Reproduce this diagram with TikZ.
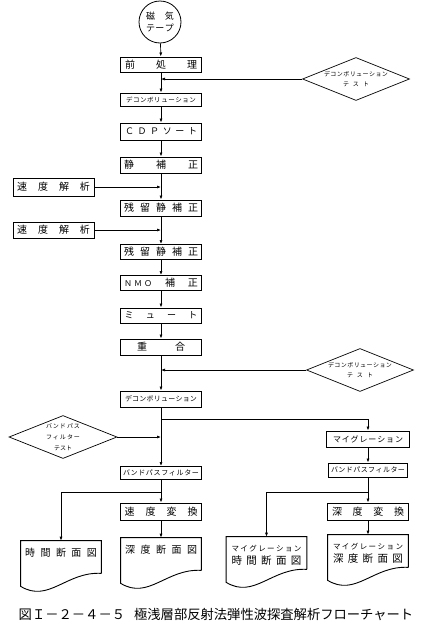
\documentclass[tikz,border=0pt]{standalone}
\usepackage{fontspec}
\setmainfont{Noto Sans CJK JP}
\usetikzlibrary{arrows.meta,shapes.geometric}
\def\spreadloop#1#2{#1\ifx\relax#2\else\hfil\expandafter\spreadloop\fi#2}
\newcommand\spreadtxt[2]{\makebox[#1][s]{\spreadloop#2\relax}}
\newcommand\fsz[1]{\fontsize{#1}{#1}\selectfont}

\begin{document}
\begin{tikzpicture}[x=1pt,y=-1pt,line width=0.7pt,>={Latex[length=4pt,width=3pt]},
  proc/.style={draw,line width=1pt,minimum width=81pt,minimum height=16pt,inner sep=0pt,font=\fsz{10}},
  test/.style={draw,diamond,aspect=2.5,line width=0.7pt,minimum width=107pt,minimum height=43pt,inner sep=0pt,align=center,font=\fontsize{6}{10}\selectfont},
  docbox/.style={minimum width=80pt,minimum height=32pt,inner sep=0pt},
  doctext/.style={anchor=north,yshift=-4pt,align=center,font=\fsz{10}}]
  \useasboundingbox (0,0) rectangle (429,635);
  % main column
  \node[circle,draw,line width=0.8pt,minimum size=42pt,inner sep=0pt,align=center,font=\fontsize{9}{12}\selectfont] (tape) at (160,22) {\spreadtxt{28pt}{磁気}\\\spreadtxt{28pt}{テープ}};
  \node[proc,minimum height=15pt] (pre) at (161,64.5) {\spreadtxt{72pt}{前処理}};
  \node[proc,minimum height=13pt,font=\fsz{6.5}] (decon1) at (161,99.5) {\spreadtxt{70pt}{デコンボリューション}};
  \node[proc,minimum height=17pt,font=\fsz{9}] (cdp) at (161,131.5) {\spreadtxt{72pt}{ＣＤＰソート}};
  \node[proc] (static) at (161,165) {\spreadtxt{74pt}{静補正}};
  \node[proc] (res1) at (161,208) {\spreadtxt{74pt}{残留静補正}};
  \node[proc,minimum height=15pt] (res2) at (161,252) {\spreadtxt{74pt}{残留静補正}};
  \node[proc,minimum height=15pt] (nmo) at (161,283) {\makebox[74pt][s]{{\fsz{8}Ｎ\hspace{2pt}Ｍ\hspace{2pt}Ｏ}\hfil 補\hfil 正}};
  \node[proc,minimum height=15pt,font=\fsz{9}] (mute) at (161,315.5) {\spreadtxt{73pt}{ミュート}};
  \node[proc] (stack) at (161,347) {\spreadtxt{48pt}{重合}};
  \node[proc,font=\fsz{7}] (decon2) at (161,399) {\spreadtxt{72pt}{デコンボリューション}};
  \node[proc,minimum height=13pt,font=\fsz{7}] (bpf1) at (161,473) {\spreadtxt{76pt}{バンドパスフィルター}};
  \node[proc,minimum height=17pt] (velconv) at (161,511.5) {\spreadtxt{73pt}{速度変換}};
  % side inputs
  \node[proc,minimum height=18pt] (vel1) at (53.5,187) {\spreadtxt{73pt}{速度解析}};
  \node[proc] (vel2) at (53.5,230) {\spreadtxt{73pt}{速度解析}};
  \node[test] (dt1) at (356,79) {\spreadtxt{64pt}{デコンボリューション}\\\spreadtxt{26pt}{テスト}};
  \node[test] (dt2) at (360,370) {\spreadtxt{64pt}{デコンボリューション}\\\spreadtxt{26pt}{テスト}};
  \node[test,minimum width=108pt,font=\fontsize{6}{11}\selectfont] (bpt) at (63,437) {\spreadtxt{34pt}{バンドパス}\\\spreadtxt{34pt}{フィルター}\\\spreadtxt{18pt}{テスト}};
  % migration column
  \node[proc,minimum width=83pt,font=\fsz{8}] (mig) at (368,439) {\spreadtxt{70pt}{マイグレーション}};
  \node[proc,minimum width=79pt,minimum height=14pt,font=\fsz{7}] (bpf2) at (368,470) {\spreadtxt{74pt}{バンドパスフィルター}};
  \node[proc,minimum height=17pt] (depconv) at (368,511.5) {\spreadtxt{72pt}{深度変換}};
  % output sections
  \node[docbox,label={[doctext]north:\spreadtxt{72pt}{時間断面図}}] (d1) at (61,557) {};
  \node[docbox,label={[doctext]north:\spreadtxt{72pt}{深度断面図}}] (d2) at (161,554) {};
  \node[docbox,label={[doctext,yshift=-1pt]north:{\fsz{7.5}\spreadtxt{70pt}{マイグレーション}}\\[3pt]{\fsz{10.5}\spreadtxt{70pt}{時間断面図}}}] (d3) at (266.5,553) {};
  \node[docbox,label={[doctext,yshift=-1pt]north:{\fsz{7.5}\spreadtxt{70pt}{マイグレーション}}\\[3pt]{\fsz{10.5}\spreadtxt{70pt}{深度断面図}}}] (d4) at (368,551) {};
  \foreach \d in {d1,d2,d3,d4}
    \draw[line width=0.9pt] (\d.south east) -- (\d.north east) -- (\d.north west) -- ([yshift=-13pt]\d.south west)
      .. controls +(28pt,-17pt) and +(-35pt,2pt) .. (\d.south east);
  \coordinate (br) at (161,419);
  \coordinate (s1) at (161,492);
  \coordinate (s2) at (368,492);
  % connectors
  \draw[->] (tape) -- (pre);
  \draw[->] (pre) -- (decon1);
  \draw[->] (decon1) -- (cdp);
  \draw[->] (cdp) -- (static);
  \draw[->] (static) -- (res1);
  \draw[->] (res1) -- (res2);
  \draw[->] (res2) -- (nmo);
  \draw[->] (nmo) -- (mute);
  \draw[->] (mute) -- (stack);
  \draw[->] (stack) -- (decon2);
  \draw[->] (decon2) -- (bpf1);
  \draw[->] (dt1) -- (dt1 -| pre);
  \draw[->] (vel1) -- (vel1 -| static);
  \draw[->] (vel2) -- (vel2 -| res1);
  \draw[->] (dt2) -- (dt2 -| stack);
  \draw[->] (bpt) -- (bpt -| decon2);
  \draw[->] (br) -| (mig);
  \draw[->] (mig) -- (bpf2);
  \draw (bpf1) -- (s1);
  \draw[->] (s1) -| (d1);
  \draw[->] (s1) -- (velconv);
  \draw[->] (velconv) -- (d2);
  \draw (bpf2) -- (s2);
  \draw[->] (s2) -| (d3);
  \draw[->] (s2) -- (depconv);
  \draw[->] (depconv) -- (d4);
  \node[font=\fsz{13.3}] (cap) at (216,614) {図Ｉ－２－４－５\hspace{9pt}極浅層部反射法弾性波探査解析フローチャート};
\end{tikzpicture}
\end{document}
